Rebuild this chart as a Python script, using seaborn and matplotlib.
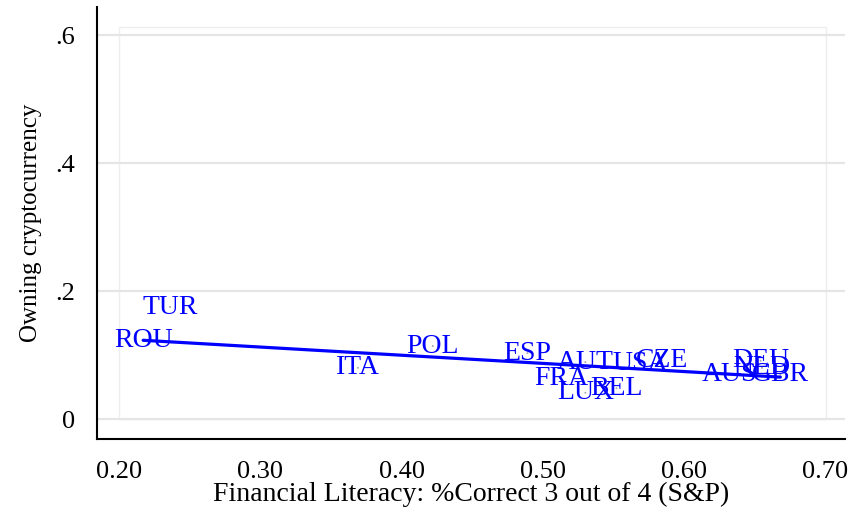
import numpy as np
import pandas as pd
import seaborn as sns
import matplotlib
matplotlib.use("Agg")
import matplotlib.pyplot as plt
from matplotlib.patches import Rectangle

# values
countries = ["ROU", "TUR", "ITA", "POL", "ESP", "AUT", "USA", "CZE",
             "FRA", "LUX", "BEL", "DEU", "NLD", "AUS", "GBR"]
literacy = [0.217, 0.236, 0.369, 0.422, 0.489, 0.530, 0.569, 0.584,
            0.513, 0.530, 0.552, 0.654, 0.655, 0.632, 0.668]
crypto = [0.123, 0.175, 0.080, 0.114, 0.103, 0.089, 0.086, 0.092,
          0.064, 0.041, 0.048, 0.091, 0.080, 0.069, 0.069]
# fitted line as drawn in the reference
fit_intercept = 0.1507
fit_slope = -0.1276

x_ticks = [0.20, 0.30, 0.40, 0.50, 0.60, 0.70]
x_tick_labels = ["0.20", "0.30", "0.40", "0.50", "0.60", "0.70"]
y_ticks = [0, 0.2, 0.4, 0.6]
y_tick_labels = ["0", ".2", ".4", ".6"]

df = pd.DataFrame({"country": countries, "lit": literacy, "own": crypto})
xr = np.array([df.lit.min(), df.lit.max()])
fit = pd.DataFrame({"lit": xr, "own": fit_intercept + fit_slope * xr})

sns.set_theme(style="white")
plt.rcParams["font.family"] = ["Liberation Serif", "DejaVu Serif"]
plt.rcParams["text.color"] = "black"
plt.rcParams["axes.labelcolor"] = "black"
plt.rcParams["xtick.color"] = "black"
plt.rcParams["ytick.color"] = "black"

fig = plt.figure(figsize=(8.5, 5.14), dpi=100)
ax = fig.add_axes([0.1141, 0.1459, 0.8799, 0.8405])

# plot region outline and grid (stata look)
ax.add_patch(Rectangle((x_ticks[0], 0), x_ticks[-1] - x_ticks[0], 0.6125,
                       fill=False, edgecolor="#eeeeee", lw=1, zorder=0))
for yv in y_ticks:
    ax.axhline(yv, color="#e5e5e5", lw=1.6, zorder=0.5)

sns.scatterplot(data=df, x="lit", y="own", s=2, color="#aaaaaa",
                edgecolor="none", ax=ax, zorder=2)
for _, r in df.iterrows():
    ax.text(r.lit, r.own, r.country, ha="center", va="center",
            color="#0000ff", fontsize=20, zorder=3)
sns.lineplot(data=fit, x="lit", y="own", color="#0000ff", lw=2.3, ax=ax, zorder=4)

ax.set_xlim(0.1843, 0.7137)
ax.set_ylim(-0.03125, 0.6438)
ax.set_xticks(x_ticks)
ax.set_xticklabels(x_tick_labels)
ax.set_yticks(y_ticks)
ax.set_yticklabels(y_tick_labels)
ax.tick_params(axis="both", direction="out", length=10, width=1.3,
               color="black", labelcolor="black", labelsize=19, pad=6)

for s in ["top", "right"]:
    ax.spines[s].set_visible(False)
for s in ["left", "bottom"]:
    ax.spines[s].set_color("black")
    ax.spines[s].set_linewidth(1.5)

ax.set_xlabel("Financial Literacy: %Correct 3 out of 4 (S&P)", fontsize=20, labelpad=-1)
ax.set_ylabel("Owning cryptocurrency", fontsize=18, labelpad=9)

fig.savefig("out.png", dpi=100)
